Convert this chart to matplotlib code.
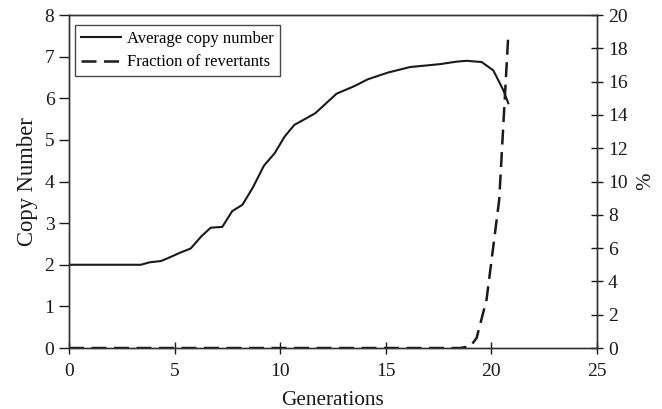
import matplotlib.pyplot as plt

plt.rcParams['font.family'] = ['Liberation Serif', 'DejaVu Serif']

# 平均拷贝数
gen_copy = [0, 3.4, 3.83, 4.36, 4.78, 5.26, 5.76, 6.28, 6.71, 7.26, 7.73, 8.21,
            8.70, 9.23, 9.74, 10.21, 10.67, 11.17, 11.66, 12.67, 13.46, 14.17,
            15.12, 16.15, 17.57, 18.36, 18.83, 19.54, 20.09, 20.56, 20.80]
copy_number = [2.0, 2.0, 2.06, 2.09, 2.18, 2.29, 2.39, 2.69, 2.89, 2.91, 3.29, 3.44,
               3.85, 4.38, 4.68, 5.08, 5.36, 5.50, 5.64, 6.11, 6.28, 6.46,
               6.62, 6.75, 6.82, 6.88, 6.90, 6.87, 6.67, 6.20, 5.88]

# 回复突变比例 (%)
gen_rev = [0, 18.5, 19.0, 19.3, 19.77, 20.37, 20.8]
revertants = [0, 0, 0.1, 0.6, 2.9, 8.9, 18.8]

fig, ax = plt.subplots(figsize=(6.62, 4.09), dpi=100)
fig.subplots_adjust(left=0.1042, right=0.9018, bottom=0.1491, top=0.9633)
ax2 = ax.twinx()

l1, = ax.plot(gen_copy, copy_number, color='#1a1a1a', linewidth=1.5,
              label='Average copy number')
l2, = ax2.plot(gen_rev, revertants, color='#1a1a1a', linewidth=1.8,
               linestyle=(0, (6, 3)), label='Fraction of revertants')

ax.set_xlim(0, 25)
ax.set_ylim(0, 8)
ax2.set_ylim(0, 20)
ax.set_xticks(range(0, 26, 5))
ax.set_yticks(range(0, 9))
ax2.set_yticks(range(0, 21, 2))

ax.set_xlabel('Generations', fontsize=15.3, color='#1a1a1a', labelpad=8)
ax.set_ylabel('Copy Number', fontsize=16.3, color='#1a1a1a', labelpad=5)
ax2.set_ylabel('%', fontsize=15, color='#1a1a1a', labelpad=6)

ax.tick_params(axis='x', direction='inout', length=9, width=1, labelsize=14,
               colors='#1a1a1a', pad=6)
ax.tick_params(axis='y', direction='out', length=7, width=1, labelsize=14,
               colors='#1a1a1a')
ax2.tick_params(axis='y', direction='inout', length=9, width=1, labelsize=14,
                colors='#1a1a1a')

for a in (ax, ax2):
    for s in a.spines.values():
        s.set_color('#333333')
        s.set_linewidth(1.0)

leg = ax.legend([l1, l2], ['Average copy number', 'Fraction of revertants'],
                loc='upper left', bbox_to_anchor=(0.011, 0.97), fontsize=12,
                frameon=True, fancybox=False, edgecolor='#1a1a1a',
                handlelength=2.4, borderpad=0.35, labelspacing=0.45,
                handletextpad=0.4, borderaxespad=0)
leg.get_frame().set_linewidth(1.0)

plt.savefig('out.png', dpi=100)
